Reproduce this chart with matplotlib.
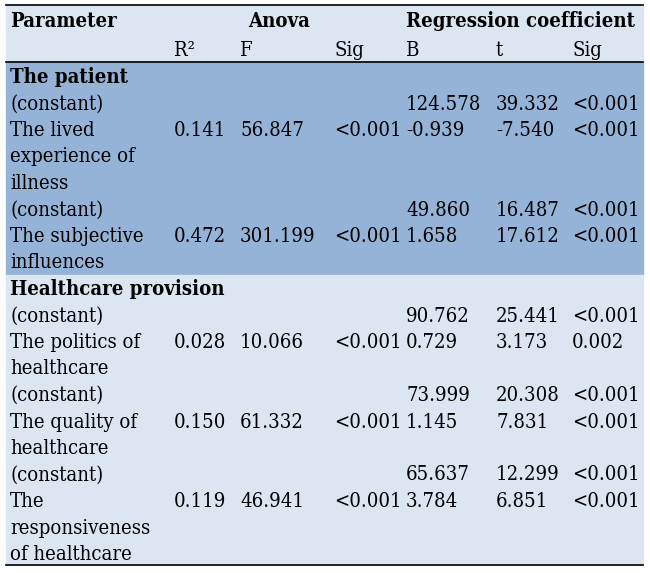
import matplotlib.pyplot as plt
from matplotlib.patches import Rectangle

# table content
sections = ["The patient", "Healthcare provision"]
section_of = [0, 0, 1, 1, 1]
predictors = ["The lived\nexperience of\nillness",
              "The subjective\ninfluences",
              "The politics of\nhealthcare",
              "The quality of\nhealthcare",
              "The\nresponsiveness\nof healthcare"]
r2 = ["0.141", "0.472", "0.028", "0.150", "0.119"]
f_val = ["56.847", "301.199", "10.066", "61.332", "46.941"]
anova_sig = ["<0.001", "<0.001", "<0.001", "<0.001", "<0.001"]
const_b = ["124.578", "49.860", "90.762", "73.999", "65.637"]
const_t = ["39.332", "16.487", "25.441", "20.308", "12.299"]
const_sig = ["<0.001", "<0.001", "<0.001", "<0.001", "<0.001"]
pred_b = ["-0.939", "1.658", "0.729", "1.145", "3.784"]
pred_t = ["-7.540", "17.612", "3.173", "7.831", "6.851"]
pred_sig = ["<0.001", "<0.001", "0.002", "<0.001", "<0.001"]
sub_headers = ["R²", "F", "Sig", "B", "t", "Sig"]

col_x = [10, 174, 240, 334, 406, 496, 572]
left, right = 6, 643
pitch = 26.5
fs = 14.6
font = "DejaVu Serif"
dark = "#95b3d7"
light = "#dce6f1"

fig = plt.figure(figsize=(6.5, 5.73), dpi=100)
ax = fig.add_axes([0, 0, 1, 1])
ax.set_xlim(0, 650)
ax.set_ylim(573, 0)
ax.axis("off")


def put(x, y, s, bold=False, size=fs):
    ax.text(x, y, s, fontsize=size, family=font, va="baseline", ha="left",
            fontweight="bold" if bold else "normal", fontstretch="condensed",
            color="black")


# header
put(col_x[0], 27, "Parameter", bold=True)
put(248, 27, "Anova", bold=True)
put(col_x[4], 27, "Regression coefficient", bold=True)
for x, s in zip(col_x[1:], sub_headers):
    put(x, 56, s)

# body lines
lines = []
cur = None
for i, lab in enumerate(predictors):
    if section_of[i] != cur:
        cur = section_of[i]
        lines.append((cur, [sections[cur]], True))
    lines.append((cur, ["(constant)", "", "", "", const_b[i], const_t[i], const_sig[i]], False))
    parts = lab.split("\n")
    lines.append((cur, [parts[0], r2[i], f_val[i], anova_sig[i], pred_b[i], pred_t[i], pred_sig[i]], False))
    for p in parts[1:]:
        lines.append((cur, [p], False))

y0 = 83
top_body = 62
bounds = {}
for k, (sec, cells, bold) in enumerate(lines):
    yb = y0 + pitch * k
    bounds.setdefault(sec, [yb, yb])
    bounds[sec][1] = yb
    for x, s in zip(col_x, cells):
        if s:
            put(x, yb, s, bold=bold)

# bands
ax.add_patch(Rectangle((left, 5), right - left, top_body - 5, color=light, zorder=0))
split = (bounds[0][1] + bounds[1][0]) / 2 - 7
end = bounds[1][1] + 5
ax.add_patch(Rectangle((left, top_body), right - left, split - top_body, color=dark, zorder=0))
ax.add_patch(Rectangle((left, split), right - left, end - split, color=light, zorder=0))

for yy in (5, top_body, end):
    ax.plot([left, right], [yy, yy], color="black", lw=1.2)

fig.savefig("out.png", dpi=100)
